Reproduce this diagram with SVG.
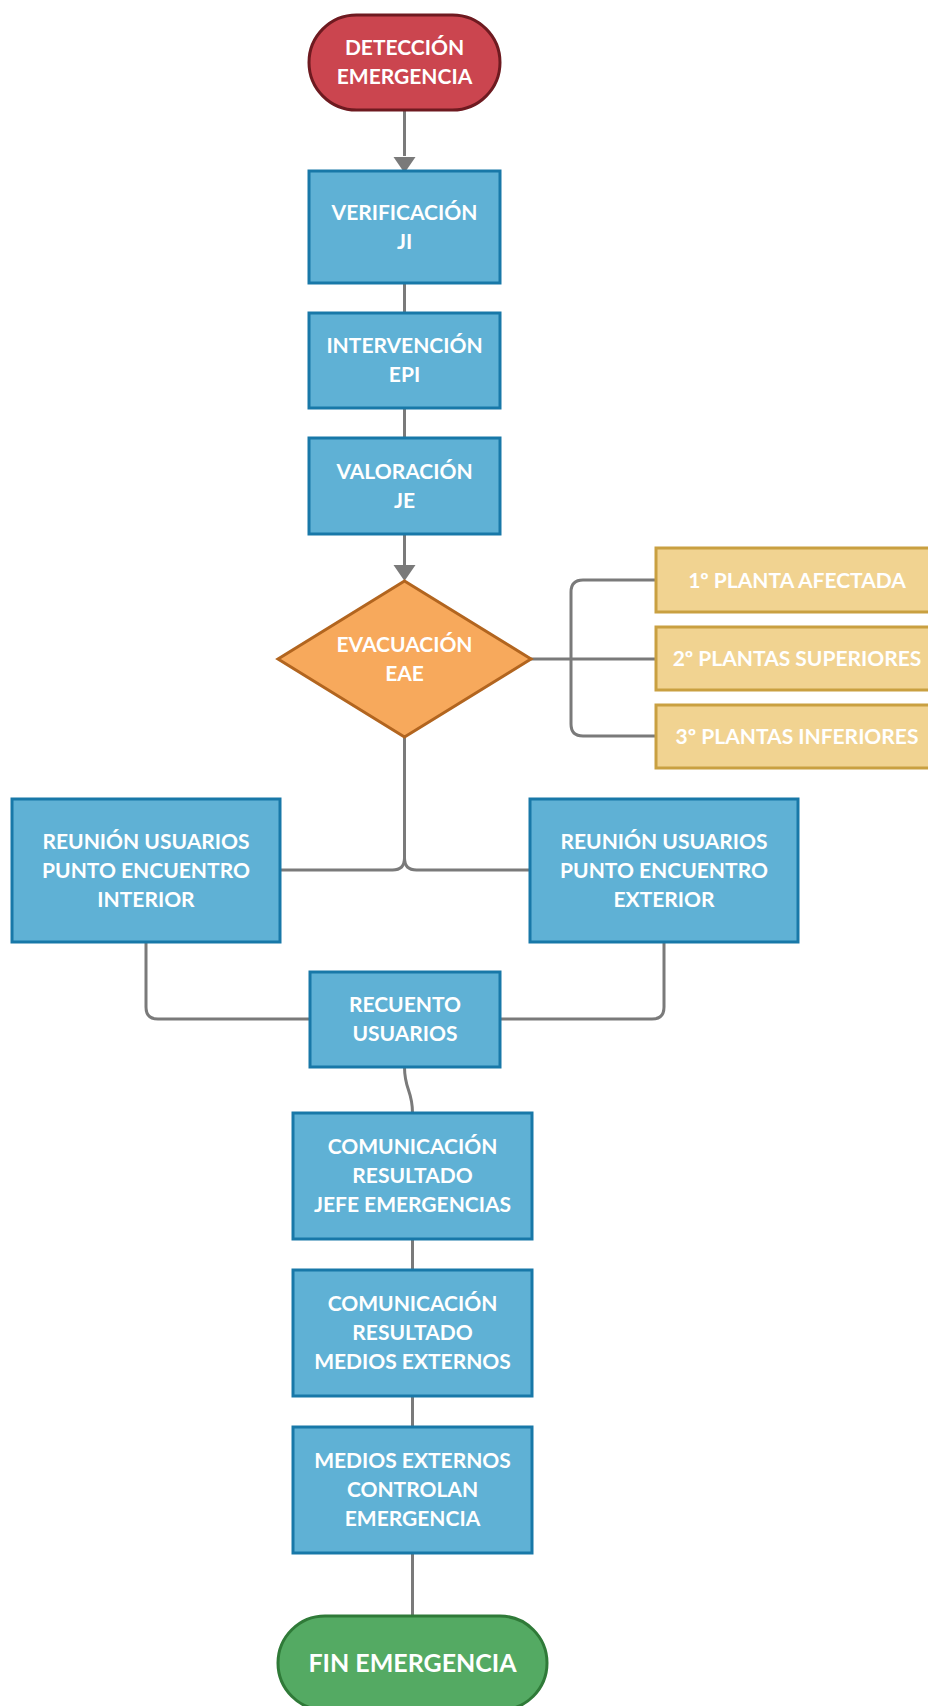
<svg xmlns="http://www.w3.org/2000/svg" width="928" height="1706" viewBox="0 0 928 1706">
<defs>
<style>
.t{font-family:Lato,"Liberation Sans",sans-serif;font-weight:bold;fill:#ffffff;text-anchor:middle;font-size:21px}
.ty{font-size:21px}
.tb{font-size:25px}
.blue{fill:#5FB1D5;stroke:#1878A8;stroke-width:3}
.c{fill:none;stroke:#7A7A7A;stroke-width:3}
</style>
</defs>
<rect width="928" height="1706" fill="#ffffff"/>
<g id="connectors">
<path class="c" d="M404.5 110 V156"/>
<path d="M393.5 157 H415.5 L404.5 173 Z" fill="#7A7A7A"/>
<path class="c" d="M404.5 283 V313"/>
<path class="c" d="M404.5 408 V438"/>
<path class="c" d="M404.5 534 V565"/>
<path d="M393.5 565 H415.5 L404.5 581 Z" fill="#7A7A7A"/>
<path class="c" d="M531 659 H656"/>
<path class="c" d="M656 580 H583 Q571 580 571 592 V724 Q571 736 583 736 H656"/>
<path class="c" d="M404.5 737 V858 Q404.5 870 392.5 870 H280"/>
<path class="c" d="M404.5 858 Q404.5 870 416.5 870 H530"/>
<path class="c" d="M146 942 V1007 Q146 1019 158 1019 H310"/>
<path class="c" d="M664 942 V1007 Q664 1019 652 1019 H500"/>
<path class="c" d="M404.5 1067 C404.5 1090 412.5 1090 412.5 1113"/>
<path class="c" d="M412.5 1239 V1270"/>
<path class="c" d="M412.5 1396 V1427"/>
<path class="c" d="M412.5 1553 V1616"/>
</g>
<g id="deteccion">
<rect x="309" y="15" width="191" height="95" rx="47.5" fill="#CB454F" stroke="#6E1A20" stroke-width="3"/>
<text class="t" x="404.5" y="55">DETECCIÓN</text>
<text class="t" x="404.5" y="84">EMERGENCIA</text>
</g>
<g id="verificacion">
<rect class="blue" x="309" y="171" width="191" height="112"/>
<text class="t" x="404.5" y="219.5">VERIFICACIÓN</text>
<text class="t" x="404.5" y="248.5">JI</text>
</g>
<g id="intervencion">
<rect class="blue" x="309" y="313" width="191" height="95"/>
<text class="t" x="404.5" y="353">INTERVENCIÓN</text>
<text class="t" x="404.5" y="382">EPI</text>
</g>
<g id="valoracion">
<rect class="blue" x="309" y="438" width="191" height="96"/>
<text class="t" x="404.5" y="478.5">VALORACIÓN</text>
<text class="t" x="404.5" y="507.5">JE</text>
</g>
<g id="evacuacion">
<path d="M404.5 581 L531 659 L404.5 737 L278 659 Z" fill="#F7A95C" stroke="#B2651F" stroke-width="3"/>
<text class="t" x="404.5" y="651.5">EVACUACIÓN</text>
<text class="t" x="404.5" y="680.5">EAE</text>
</g>
<g id="planta1">
<rect x="656" y="548" width="282" height="64" fill="#F1D391" stroke="#C9A041" stroke-width="3"/>
<text class="t ty" x="797" y="587.5">1º PLANTA AFECTADA</text>
</g>
<g id="planta2">
<rect x="656" y="627" width="282" height="63" fill="#F1D391" stroke="#C9A041" stroke-width="3"/>
<text class="t ty" x="797" y="666">2º PLANTAS SUPERIORES</text>
</g>
<g id="planta3">
<rect x="656" y="705" width="282" height="63" fill="#F1D391" stroke="#C9A041" stroke-width="3"/>
<text class="t ty" x="797" y="744">3º PLANTAS INFERIORES</text>
</g>
<g id="reunion-interior">
<rect class="blue" x="12" y="799" width="268" height="143"/>
<text class="t" x="146" y="848.5">REUNIÓN USUARIOS</text>
<text class="t" x="146" y="877.5">PUNTO ENCUENTRO</text>
<text class="t" x="146" y="906.5">INTERIOR</text>
</g>
<g id="reunion-exterior">
<rect class="blue" x="530" y="799" width="268" height="143"/>
<text class="t" x="664" y="848.5">REUNIÓN USUARIOS</text>
<text class="t" x="664" y="877.5">PUNTO ENCUENTRO</text>
<text class="t" x="664" y="906.5">EXTERIOR</text>
</g>
<g id="recuento">
<rect class="blue" x="310" y="972" width="190" height="95"/>
<text class="t" x="405" y="1012">RECUENTO</text>
<text class="t" x="405" y="1041">USUARIOS</text>
</g>
<g id="comunicacion-jefe">
<rect class="blue" x="293" y="1113" width="239" height="126"/>
<text class="t" x="412.5" y="1154">COMUNICACIÓN</text>
<text class="t" x="412.5" y="1183">RESULTADO</text>
<text class="t" x="412.5" y="1212">JEFE EMERGENCIAS</text>
</g>
<g id="comunicacion-medios">
<rect class="blue" x="293" y="1270" width="239" height="126"/>
<text class="t" x="412.5" y="1311">COMUNICACIÓN</text>
<text class="t" x="412.5" y="1340">RESULTADO</text>
<text class="t" x="412.5" y="1369">MEDIOS EXTERNOS</text>
</g>
<g id="medios-controlan">
<rect class="blue" x="293" y="1427" width="239" height="126"/>
<text class="t" x="412.5" y="1468">MEDIOS EXTERNOS</text>
<text class="t" x="412.5" y="1497">CONTROLAN</text>
<text class="t" x="412.5" y="1526">EMERGENCIA</text>
</g>
<g id="fin">
<rect x="278" y="1616" width="269" height="94" rx="47" fill="#54AA63" stroke="#2F7A38" stroke-width="3"/>
<text class="t tb" x="412.5" y="1671.5">FIN EMERGENCIA</text>
</g>
</svg>
